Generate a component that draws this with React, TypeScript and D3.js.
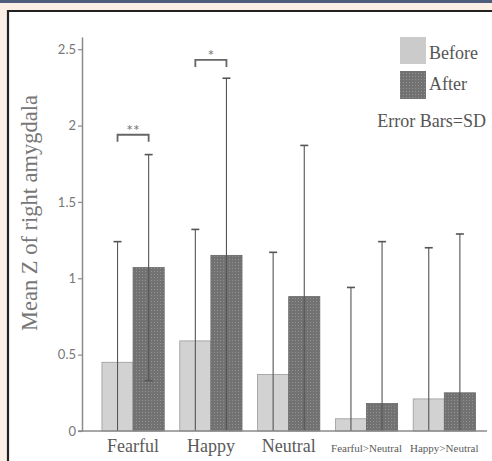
import * as d3 from 'd3';
import { useRef, useEffect } from 'react';

const categories = ['Fearful', 'Happy', 'Neutral', 'Fearful>Neutral', 'Happy>Neutral'];
const beforeMean = [0.45, 0.59, 0.37, 0.08, 0.21];
const beforeSD = [0.79, 0.73, 0.8, 0.86, 0.99];
const afterMean = [1.07, 1.15, 0.88, 0.18, 0.25];
const afterSD = [0.74, 1.16, 0.99, 1.06, 1.04];
const yTicks = [0, 0.5, 1, 1.5, 2, 2.5];
const sigMarks = [
  { cat: 'Fearful', y: 1.94, label: '**' },
  { cat: 'Happy', y: 2.43, label: '*' },
];

const App = () => {
  const svgRef = useRef(null);

  useEffect(() => {
    const svg = d3.select(svgRef.current);
    const width = 492;
    const height = 461;
    svg.attr('width', width).attr('height', height);
    svg.selectAll('*').remove();

    const serif = '"Liberation Serif", "DejaVu Serif", serif';
    const sans = 'Lato, "Open Sans", sans-serif';

    // frame
    svg.append('rect').attr('width', width).attr('height', height).attr('fill', '#fcf0e6');
    svg.append('rect').attr('width', width).attr('height', 3).attr('fill', '#4f5d7c');
    svg.append('rect').attr('x', 7).attr('y', 10).attr('width', width).attr('height', height).attr('fill', '#fff');
    svg.append('path').attr('d', `M8,${height} V11 H${width}`).attr('fill', 'none').attr('stroke', '#222').attr('stroke-width', 2.2);

    const defs = svg.append('defs');
    const pat = defs.append('pattern').attr('id', 'dots').attr('patternUnits', 'userSpaceOnUse')
      .attr('width', 3).attr('height', 3);
    pat.append('rect').attr('width', 3).attr('height', 3).attr('fill', '#727272');
    pat.append('rect').attr('x', 1).attr('y', 1).attr('width', 1).attr('height', 1).attr('fill', '#929292');

    const x = d3.scaleBand().domain(categories).range([86.4, 491]).paddingInner(0.2).paddingOuter(0.2);
    const sub = d3.scaleBand().domain(['before', 'after']).range([0, x.bandwidth()]);
    const y = d3.scaleLinear().domain([0, 2.58]).range([431, 37]);

    const rows = categories.flatMap((c, i) => [
      { c, k: 'before', m: beforeMean[i], sd: beforeSD[i] },
      { c, k: 'after', m: afterMean[i], sd: afterSD[i] },
    ]);

    svg.append('g').selectAll('rect').data(rows).enter().append('rect')
      .attr('x', d => x(d.c) + sub(d.k))
      .attr('y', d => y(d.m))
      .attr('width', sub.bandwidth())
      .attr('height', d => y(0) - y(d.m))
      .attr('fill', d => d.k === 'before' ? '#d2d2d2' : 'url(#dots)')
      .attr('stroke', d => d.k === 'before' ? '#9a9a9a' : '#666')
      .attr('stroke-width', 0.8);

    // error bars
    const eb = svg.append('g').attr('stroke', '#555').attr('stroke-width', 1.1);
    rows.forEach(d => {
      const cx = x(d.c) + sub(d.k) + sub.bandwidth() / 2;
      const lo = Math.max(0, d.m - d.sd);
      const hi = d.m + d.sd;
      eb.append('line').attr('x1', cx).attr('x2', cx).attr('y1', y(lo)).attr('y2', y(hi));
      eb.append('line').attr('x1', cx - 4).attr('x2', cx + 4).attr('y1', y(hi)).attr('y2', y(hi)).attr('stroke-width', 1.6);
      if (d.m - d.sd > 0) {
        eb.append('line').attr('x1', cx - 4).attr('x2', cx + 4).attr('y1', y(lo)).attr('y2', y(lo)).attr('stroke-width', 1.6);
      }
    });

    // axes
    const axisColor = '#8a8a8a';
    svg.append('line').attr('x1', 78).attr('x2', 487).attr('y1', y(0)).attr('y2', y(0))
      .attr('stroke', axisColor).attr('stroke-width', 1.5);
    const yAxis = svg.append('g').attr('transform', 'translate(82,0)')
      .call(d3.axisLeft(y).tickValues(yTicks).tickSize(4).tickSizeOuter(0).tickPadding(2).tickFormat(d => String(d)));
    yAxis.select('.domain').attr('stroke', axisColor).attr('stroke-width', 1.5);
    yAxis.selectAll('.tick line').attr('stroke', axisColor).attr('stroke-width', 1.2);
    yAxis.selectAll('.tick text').attr('fill', '#777').style('font-family', sans).style('font-size', '13px');

    svg.append('g').selectAll('text').data(categories).enter().append('text')
      .attr('x', d => x(d) + x.bandwidth() / 2)
      .attr('y', 452)
      .attr('text-anchor', 'middle')
      .attr('fill', '#5a5a5a')
      .style('font-family', serif)
      .style('font-size', d => d.includes('>') ? '11px' : '18px')
      .text(d => d);

    svg.append('text')
      .attr('transform', 'translate(37,213) rotate(-90)')
      .attr('text-anchor', 'middle')
      .attr('fill', '#777')
      .style('font-family', serif)
      .style('font-size', '22.5px')
      .text('Mean Z of right amygdala');

    // significance brackets
    sigMarks.forEach(s => {
      const x1 = x(s.cat) + sub('before') + sub.bandwidth() / 2;
      const x2 = x(s.cat) + sub('after') + sub.bandwidth() / 2;
      const yy = y(s.y);
      svg.append('path').attr('d', `M${x1},${yy + 7} V${yy} H${x2} V${yy + 7}`)
        .attr('fill', 'none').attr('stroke', '#666').attr('stroke-width', 1.8);
      svg.append('text').attr('x', (x1 + x2) / 2).attr('y', yy + 1).attr('text-anchor', 'middle')
        .attr('fill', '#777').style('font-family', sans).style('font-size', '16px').text(s.label);
    });

    // legend
    const lg = svg.append('g');
    lg.append('rect').attr('x', 400).attr('y', 37).attr('width', 26).attr('height', 27).attr('fill', '#cbcbcb');
    lg.append('rect').attr('x', 400).attr('y', 71).attr('width', 26).attr('height', 28).attr('fill', 'url(#dots)');
    lg.append('text').attr('x', 429).attr('y', 59).attr('fill', '#555').style('font-family', serif).style('font-size', '18px').text('Before');
    lg.append('text').attr('x', 429).attr('y', 90).attr('fill', '#555').style('font-family', serif).style('font-size', '18px').text('After');
    lg.append('text').attr('x', 486).attr('y', 127).attr('text-anchor', 'end').attr('fill', '#555').style('font-family', serif).style('font-size', '18px').text('Error Bars=SD');
  }, []);

  return (
    <svg ref={svgRef} style={{ position: 'absolute', left: 0, top: 0, display: 'block' }}></svg>
  );
};

export default App;
